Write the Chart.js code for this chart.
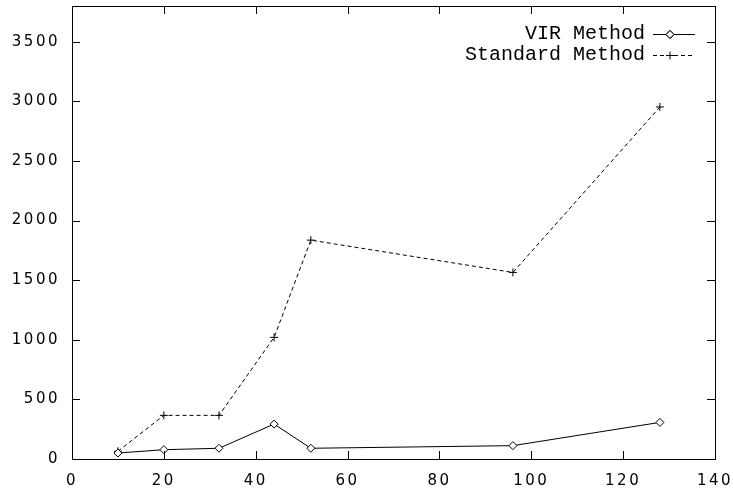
<!DOCTYPE html>
<html>
<head>
<meta charset="utf-8">
<script src="https://cdn.jsdelivr.net/npm/chart.js@4/dist/chart.umd.min.js"></script>
<style>
    html, body { margin: 0; padding: 0; background: #fff; }
    #wrap { width: 733px; height: 489px; }
</style>
</head>
<body>
<div id="wrap"><canvas id="chart" width="733" height="489"></canvas></div>
<script>
// values
const xValues = [10, 20, 32, 44, 52, 96, 128];
const virMethod = [50, 78, 90, 293, 90, 112, 307];
const standardMethod = [65, 366, 366, 1020, 1836, 1565, 2953];
const seriesLabels = ['VIR Method', 'Standard Method'];
const xTicks = [0, 20, 40, 60, 80, 100, 120, 140];
const yTicks = [0, 500, 1000, 1500, 2000, 2500, 3000, 3500];

const toPoints = (ys) => xValues.map((x, i) => ({x: x, y: ys[i]}));

// gnuplot-ish frame : full border + inward ticks on every side
const framePlugin = {
    id: 'frame',
    beforeUpdate(chart) {
        chart.ctx.letterSpacing = '2.5px';
    },
    beforeDraw(chart) {
        chart.ctx.letterSpacing = '2.5px';
    },
    afterDraw(chart) {
        const ctx = chart.ctx;
        const a = chart.chartArea;
        const xs = chart.scales.x, ys = chart.scales.y;
        const len = 8;
        ctx.save();
        ctx.strokeStyle = '#000';
        ctx.lineWidth = 1;
        ctx.strokeRect(Math.round(a.left) + 0.5, Math.round(a.top) + 0.5,
            Math.round(a.right - a.left), Math.round(a.bottom - a.top));
        ctx.beginPath();
        xTicks.forEach(v => {
            if (v <= xs.min || v >= xs.max) return;
            const px = Math.round(xs.getPixelForValue(v)) + 0.5;
            ctx.moveTo(px, a.bottom); ctx.lineTo(px, a.bottom - len);
            ctx.moveTo(px, a.top); ctx.lineTo(px, a.top + len);
        });
        yTicks.forEach(v => {
            if (v <= ys.min) return;
            const py = Math.round(ys.getPixelForValue(v)) + 0.5;
            ctx.moveTo(a.left, py); ctx.lineTo(a.left + len, py);
            ctx.moveTo(a.right, py); ctx.lineTo(a.right - len, py);
        });
        ctx.stroke();

        // key, text right aligned with the sample to its right
        ctx.letterSpacing = '0px';
        ctx.font = '20px "Liberation Mono"';
        ctx.fillStyle = '#000';
        ctx.textAlign = 'right';
        ctx.textBaseline = 'middle';
        const rows = [34, 55];
        chart.data.datasets.forEach((ds, i) => {
            const y = rows[i] + 0.5;
            ctx.fillText(ds.label, 645, rows[i]);
            ctx.beginPath();
            ctx.setLineDash(ds.borderDash || []);
            ctx.moveTo(653, y); ctx.lineTo(695, y);
            ctx.stroke();
            ctx.setLineDash([]);
            Chart.helpers.drawPoint(ctx, {
                pointStyle: ds.pointStyle, radius: ds.pointRadius, rotation: 0,
                borderWidth: 1
            }, 670, y);
            if (ds.pointStyle === 'rectRot') {
                ctx.fillStyle = '#fff';
                ctx.fill();
                ctx.stroke();
                ctx.fillStyle = '#000';
            }
        });
        ctx.restore();
    }
};

new Chart(document.getElementById('chart'), {
    type: 'line',
    data: {
        datasets: [{
            label: seriesLabels[0],
            data: toPoints(virMethod),
            borderColor: '#000',
            borderWidth: 1,
            pointStyle: 'rectRot',
            pointRadius: 4,
            pointBackgroundColor: '#fff',
            pointBorderColor: '#000',
            pointBorderWidth: 1
        }, {
            label: seriesLabels[1],
            data: toPoints(standardMethod),
            borderColor: '#000',
            borderWidth: 1,
            borderDash: [4, 3],
            pointStyle: 'cross',
            pointRadius: 4,
            pointBorderColor: '#000',
            pointBorderWidth: 1
        }]
    },
    options: {
        responsive: false,
        animation: false,
        layout: {padding: {top: 6, right: 18, left: 0, bottom: 0}},
        plugins: {
            legend: {display: false},
            tooltip: {enabled: false}
        },
        scales: {
            x: {
                type: 'linear',
                min: 0,
                max: 140,
                grid: {display: false, drawTicks: false},
                border: {display: false},
                afterBuildTicks: (s) => { s.ticks = xTicks.map(v => ({value: v})); },
                afterFit: (s) => {
                    s.height = 30;
                    s.paddingLeft = 0;
                    s.paddingRight = 0;
                },
                ticks: {
                    autoSkip: false,
                    maxRotation: 0,
                    padding: 13,
                    color: '#000',
                    font: {family: '"DejaVu Sans"', size: 15},
                    callback: (v) => String(v)
                }
            },
            y: {
                min: 0,
                max: 3800,
                grid: {display: false, drawTicks: false},
                border: {display: false},
                afterBuildTicks: (s) => { s.ticks = yTicks.map(v => ({value: v})); },
                afterFit: (s) => {
                    s.width = 72;
                    s.paddingTop = 0;
                    s.paddingBottom = 0;
                },
                ticks: {
                    autoSkip: false,
                    padding: 12,
                    color: '#000',
                    font: {family: '"DejaVu Sans"', size: 15},
                    callback: (v) => String(v)
                }
            }
        }
    },
    plugins: [framePlugin]
});
</script>
</body>
</html>
